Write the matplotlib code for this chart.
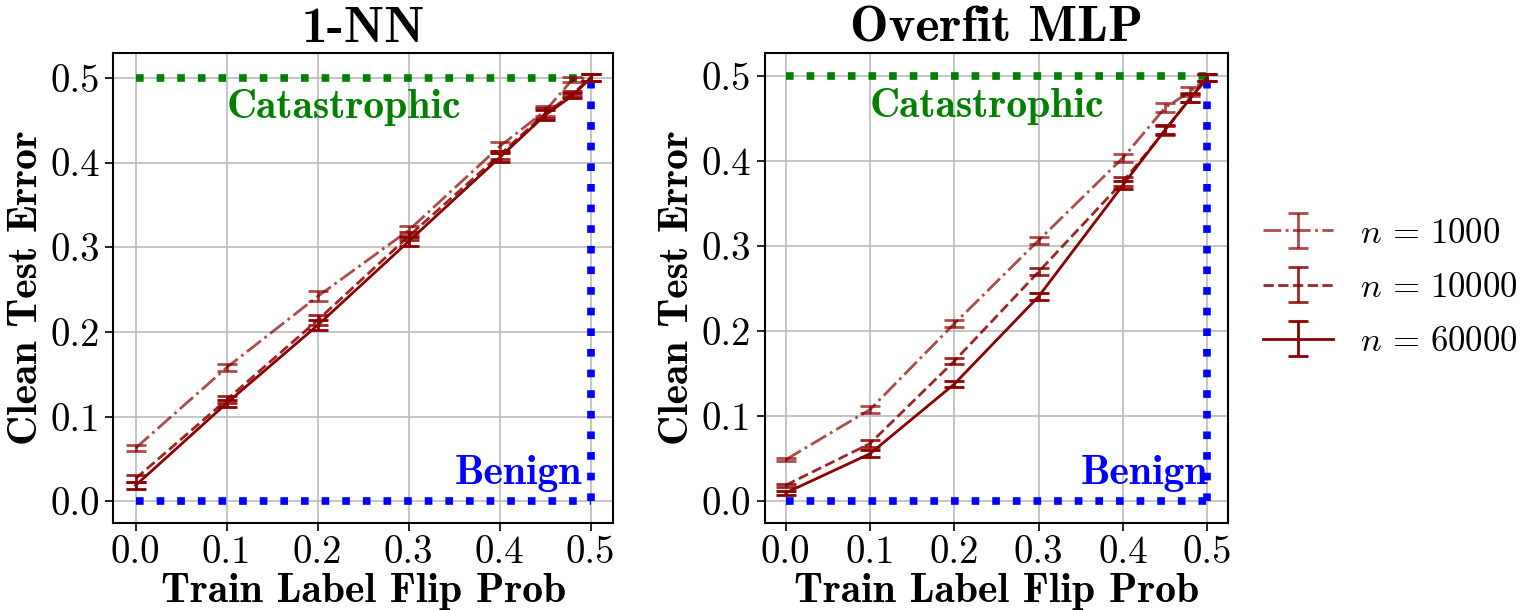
import numpy as np
import matplotlib
matplotlib.use("Agg")
import matplotlib.pyplot as plt

plt.rcParams["font.family"] = "serif"
plt.rcParams["font.serif"] = ["cmr10"]
plt.rcParams["mathtext.fontset"] = "cm"
plt.rcParams["axes.formatter.use_mathtext"] = True
plt.rcParams["axes.unicode_minus"] = False

# flip probabilities
flip = [0.0, 0.1, 0.2, 0.3, 0.4, 0.45, 0.48, 0.5]
sizes = ["1000", "10000", "60000"]

# 1-NN clean test error
nn_1000 = [0.063, 0.158, 0.242, 0.320, 0.419, 0.461, 0.498, 0.500]
nn_10000 = [0.027, 0.120, 0.214, 0.313, 0.409, 0.458, 0.481, 0.500]
nn_60000 = [0.019, 0.116, 0.208, 0.307, 0.406, 0.456, 0.479, 0.500]
nn_err = [0.004, 0.004, 0.006, 0.005, 0.005, 0.006, 0.003, 0.004]

# Overfit MLP clean test error
mlp_1000 = [0.049, 0.108, 0.209, 0.307, 0.404, 0.463, 0.482, 0.498]
mlp_10000 = [0.019, 0.068, 0.165, 0.270, 0.376, 0.436, 0.475, 0.498]
mlp_60000 = [0.010, 0.056, 0.138, 0.241, 0.372, 0.437, 0.474, 0.498]
mlp_err = [0.002, 0.004, 0.004, 0.004, 0.005, 0.005, 0.005, 0.004]

styles = ["-.", "--", "-"]
alphas = [0.7, 0.85, 1.0]

fig = plt.figure(figsize=(15.26, 6.1), dpi=100)
ax1 = fig.add_axes([0.074, 0.143, 0.328, 0.770])
ax2 = fig.add_axes([0.501, 0.143, 0.304, 0.770])

panels = [(ax1, "1-NN", [nn_1000, nn_10000, nn_60000], nn_err),
          (ax2, "Overfit MLP", [mlp_1000, mlp_10000, mlp_60000], mlp_err)]

for ax, title, series, err in panels:
    ax.grid(True, color="#bbbbbb", linewidth=1.2, zorder=0)
    ax.plot([0, 0.5], [0.5, 0.5], color="green", linewidth=5.5, dashes=(1, 1.7), zorder=2)
    ax.plot([0, 0.5], [0, 0], color="blue", linewidth=5.5, dashes=(1, 1.7), zorder=2)
    ax.plot([0.5, 0.5], [0, 0.5], color="blue", linewidth=5.5, dashes=(1, 1.7), zorder=2)
    for vals, ls, a, s in zip(series, styles, alphas, sizes):
        ax.errorbar(flip, vals, yerr=err, color="darkred", alpha=a, linestyle=ls,
                    linewidth=2, elinewidth=2, capsize=7, capthick=2,
                    label=r"$n\,=\,%s$" % s, zorder=3)
    ax.text(0.1, 0.452, "Catastrophic", color="green", fontsize=30, fontfamily="cmb10")
    ax.text(0.35, 0.02, "Benign", color="blue", fontsize=30, fontfamily="cmb10")
    ax.set_title(title, fontsize=37, fontfamily="cmb10", pad=8)
    ax.set_xlabel("Train Label Flip Prob", fontsize=30, fontfamily="cmb10", labelpad=1)
    ax.set_ylabel("Clean Test Error", fontsize=30, fontfamily="cmb10", labelpad=4)
    ax.set_xticks([0.0, 0.1, 0.2, 0.3, 0.4, 0.5])
    ax.set_yticks([0.0, 0.1, 0.2, 0.3, 0.4, 0.5])
    ax.set_xticklabels(["0.0", "0.1", "0.2", "0.3", "0.4", "0.5"])
    ax.set_yticklabels(["0.0", "0.1", "0.2", "0.3", "0.4", "0.5"])
    ax.tick_params(labelsize=28, length=6, width=1.2)
    ax.tick_params(axis="x", pad=3)
    for sp in ax.spines.values():
        sp.set_linewidth(1.5)

ax2.legend(loc="center left", bbox_to_anchor=(1.0, 0.5), frameon=False,
           fontsize=25, handlelength=2.0, handletextpad=0.8, labelspacing=0.65,
           borderaxespad=0.6)

fig.savefig("out.png", dpi=100)
